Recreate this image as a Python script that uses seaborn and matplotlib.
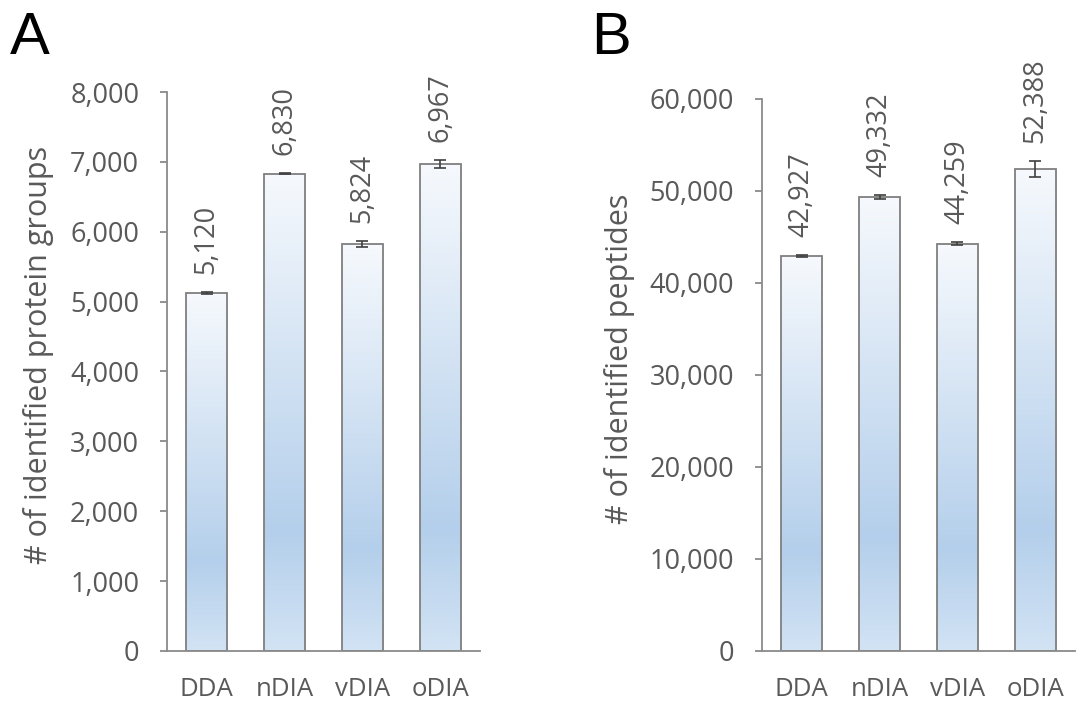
import numpy as np
import pandas as pd
import matplotlib
matplotlib.use("Agg")
import matplotlib.pyplot as plt
from matplotlib.colors import LinearSegmentedColormap
import seaborn as sns

# data
methods = ["DDA", "nDIA", "vDIA", "oDIA"]
protein_groups = [5120, 6830, 5824, 6967]
protein_sd = [15, 10, 40, 60]
peptides = [42927, 49332, 44259, 52388]
peptide_sd = [80, 200, 180, 900]

sns.set_style("white")
plt.rcParams["font.family"] = ["Open Sans", "DejaVu Sans"]

grey_txt = "#595959"
grey_line = "#8a8a8a"
bar_edge = "#7f7f7f"

# excel-like vertical fill: light at bottom, darker near 1/4 height, white at top
grad_cmap = LinearSegmentedColormap.from_list(
    "excel_blue", [(0.0, "#d2e3f4"), (0.25, "#b4cfeb"), (1.0, "#f6f9fd")])


def gradient_bars(ax):
    grad = np.linspace(0, 1, 256).reshape(-1, 1)
    xlim, ylim = ax.get_xlim(), ax.get_ylim()
    for p in ax.patches:
        x0, y0 = p.get_x(), p.get_y()
        w, h = p.get_width(), p.get_height()
        im = ax.imshow(grad, extent=[x0, x0 + w, y0, y0 + h], origin="lower",
                       aspect="auto", cmap=grad_cmap, zorder=p.get_zorder() - 0.1,
                       interpolation="bicubic")
        im.set_clip_path(p)
        p.set_facecolor("none")
    ax.set_xlim(xlim)
    ax.set_ylim(ylim)


def panel(ax, vals, sds, ymax, step, ylabel, label_x):
    df = pd.DataFrame({"method": methods, "value": vals})
    sns.barplot(data=df, x="method", y="value", ax=ax, width=0.53, color="white",
                edgecolor=bar_edge, linewidth=1.3, errorbar=None)
    ax.set_xlim(-0.51, 3.51)
    ax.set_ylim(0, ymax)
    gradient_bars(ax)
    ax.errorbar(np.arange(len(vals)), vals, yerr=sds, fmt="none", ecolor="#404040",
                elinewidth=1.2, capsize=4.5, capthick=1.2, zorder=5)
    for i, (v, s) in enumerate(zip(vals, sds)):
        ax.annotate(f"{v:,}", xy=(i, v + s), xytext=(0, 13), textcoords="offset points",
                    rotation=90, ha="center", va="bottom", fontsize=19.5, color=grey_txt)
    ax.set_yticks(np.arange(0, ymax + 1, step))
    ax.set_yticklabels([f"{t:,}" for t in np.arange(0, ymax + 1, step)])
    ax.set_xlabel("")
    ax.set_ylabel(ylabel, fontsize=22, color=grey_txt, va="center")
    ax.yaxis.set_label_coords(label_x, 0.53)
    sns.despine(ax=ax)
    for side in ("left", "bottom"):
        ax.spines[side].set_color(grey_line)
        ax.spines[side].set_linewidth(1.3)
    ax.tick_params(axis="y", direction="out", length=5, width=1.3, color=grey_line,
                   labelsize=19.5, labelcolor=grey_txt, pad=15, left=True)
    ax.tick_params(axis="x", length=0, labelsize=18.5, labelcolor=grey_txt, pad=19)


fig = plt.figure(figsize=(10.86, 7.11), dpi=100)
ax_a = fig.add_axes([0.1538, 0.0844, 0.2882, 0.7862])
ax_b = fig.add_axes([0.7017, 0.0844, 0.2882, 0.7764])

panel(ax_a, protein_groups, protein_sd, 8000, 1000,
      "# of identified protein groups", -0.41)
panel(ax_b, peptides, peptide_sd, 60000, 10000,
      "# of identified peptides", -0.455)

fig.text(0.009, 0.985, "A", fontsize=43, family="Liberation Sans", color="black", va="top")
fig.text(0.544, 0.985, "B", fontsize=43, family="Liberation Sans", color="black", va="top")

fig.savefig("out.png", dpi=100, facecolor="white")
